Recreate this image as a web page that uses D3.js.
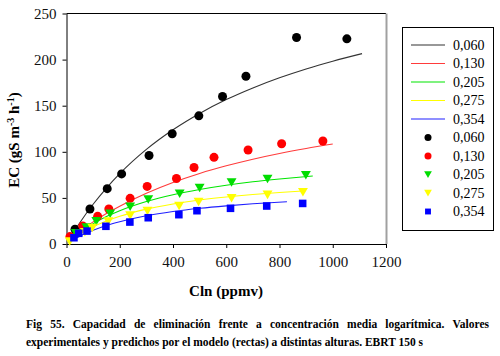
<!DOCTYPE html>
<html><head><meta charset="utf-8">
<script src="https://cdn.jsdelivr.net/npm/d3@7"></script>
<style>body{margin:0;background:#fff}svg{display:block}</style>
</head><body>
<script>
// ---- data ----
const seriesNames = ["0,060","0,130","0,205","0,275","0,354"];
const xTicks = [0,200,400,600,800,1000,1200];
const yTicks = [0,50,100,150,200,250];

// experimental points
const ptsX060 = [32, 88, 153, 207, 310, 397, 497, 586, 674, 864, 1053];
const ptsY060 = [16, 38, 60, 76, 96, 119.6, 139, 160, 182, 224, 222.5];
const ptsX130 = [13, 61, 117, 159, 239, 303, 413, 479, 554, 682, 808, 963];
const ptsY130 = [8, 19.5, 30, 38, 49.5, 62.5, 71, 83, 94, 102, 108.7, 111.7];
const ptsX205 = [35, 75, 112, 164, 239, 307, 425, 500, 620, 755, 899];
const ptsY205 = [12, 18, 25, 33, 40.7, 48.6, 54.8, 61, 67, 70.8, 74.8];
const ptsX275 = [12, 69, 97, 157, 239, 304, 423, 496, 620, 755, 888];
const ptsY275 = [3, 13, 17.7, 24.6, 31, 36, 41.5, 45.9, 49.9, 53.5, 56.4];
const ptsX354 = [28, 46, 77, 148, 238, 307, 422, 490, 616, 752, 887];
const ptsY354 = [6.8, 11.6, 14, 19.2, 23.8, 28.5, 31.8, 36.1, 38.7, 41.2, 44];

// model (predicted) lines
const lineX060 = [15, 50, 100, 150, 200, 300, 400, 500, 600, 700, 800, 900, 1000, 1110];
const lineY060 = [7.3, 23.1, 43.1, 60.7, 76.3, 102.6, 123.9, 141.6, 156.6, 169.3, 180.3, 189.9, 198.3, 206.5];
const lineX130 = [15, 50, 100, 150, 200, 300, 400, 500, 600, 700, 800, 900, 1000];
const lineY130 = [4.5, 13.5, 24, 33, 41, 55, 66.7, 76.5, 84.8, 92, 98.2, 103.6, 108.4];
const lineX205 = [15, 50, 100, 150, 200, 300, 400, 500, 600, 700, 800, 925];
const lineY205 = [4.0, 12.2, 21.9, 29.7, 36.1, 46.1, 53.5, 59.2, 63.8, 67.5, 70.5, 73.7];
const lineX275 = [15, 50, 100, 150, 200, 300, 400, 500, 600, 700, 800, 888];
const lineY275 = [3.5, 10.5, 18.6, 24.9, 30.0, 37.8, 43.4, 47.7, 51.0, 53.7, 55.9, 57.5];
const lineX354 = [15, 50, 100, 150, 200, 300, 400, 500, 600, 700, 828];
const lineY354 = [2.8, 8.5, 14.9, 20.1, 24.2, 30.6, 35.2, 38.7, 41.4, 43.6, 45.9];

const lineColors = ["#333333","#ff3b3b","#00e600","#ffff00","#2020ff"];
const markColors = ["#000000","#ff0000","#00dd00","#ffff00","#0000ff"];
const markShapes = ["circle","circle","tri","tri","square"];
const captionLine1 = "Fig 55. Capacidad de eliminación frente a concentración media logarítmica. Valores";
const captionLine2 = "experimentales y predichos por el modelo (rectas) a distintas alturas. EBRT 150 s";

const lines = [[lineX060,lineY060],[lineX130,lineY130],[lineX205,lineY205],[lineX275,lineY275],[lineX354,lineY354]];
const pts = [[ptsX060,ptsY060],[ptsX130,ptsY130],[ptsX205,ptsY205],[ptsX275,ptsY275],[ptsX354,ptsY354]];

const FONT = '"Liberation Serif"';
const W=500,H=356;
const svg = d3.select("body").append("svg").attr("width",W).attr("height",H);
const x = d3.scaleLinear().domain([0,1200]).range([66.5,386]);
const y = d3.scaleLinear().domain([0,250]).range([244,13.5]);

// frame
svg.append("line").attr("x1",x(0)).attr("x2",x(1200)).attr("y1",y(250)).attr("y2",y(250)).attr("stroke","#000").attr("stroke-width",1);
svg.append("line").attr("x1",x(1200)+0.5).attr("x2",x(1200)+0.5).attr("y1",y(250)).attr("y2",y(0)).attr("stroke","#a0a0a0").attr("stroke-width",2);

const xa = svg.append("g").attr("transform",`translate(0,${y(0)})`)
  .call(d3.axisBottom(x).tickValues(xTicks).tickFormat(d3.format("d")).tickSize(4).tickPadding(8).tickSizeOuter(0));
const ya = svg.append("g").attr("transform",`translate(${x(0)},0)`)
  .call(d3.axisLeft(y).tickValues(yTicks).tickFormat(d3.format("d")).tickSize(4).tickPadding(6).tickSizeOuter(0));
[xa,ya].forEach(a=>{a.attr("font-family",null).attr("font-size",null);
  a.selectAll("text").attr("font-family",FONT).attr("font-size",15).attr("fill","#111");
  a.selectAll("path,line").attr("stroke","#000");});

// lines
const lg = d3.line().x(d=>x(d[0])).y(d=>y(d[1])).curve(d3.curveMonotoneX);
lines.forEach((l,i)=>{
  const data = l[0].map((v,j)=>[v,l[1][j]]);
  svg.append("path").datum(data).attr("d",lg).attr("fill","none").attr("stroke",lineColors[i]).attr("stroke-width",1.1);
});

function drawMark(g,shape,cx,cy,color,s){
  if(shape==="circle") g.append("circle").attr("cx",cx).attr("cy",cy).attr("r",s*0.5).attr("fill",color);
  else if(shape==="tri") g.append("path").attr("d",`M${cx-s*0.55},${cy-s*0.45}L${cx+s*0.55},${cy-s*0.45}L${cx},${cy+s*0.5}Z`).attr("fill",color);
  else g.append("rect").attr("x",cx-s*0.42).attr("y",cy-s*0.42).attr("width",s*0.84).attr("height",s*0.84).attr("fill",color);
}
const mg = svg.append("g");
pts.forEach((p,i)=>{
  p[0].forEach((v,j)=>drawMark(mg,markShapes[i],x(v),y(p[1][j]),markColors[i],9));
});

// axis titles
svg.append("text").attr("x",226).attr("y",296).attr("text-anchor","middle").attr("font-family",FONT)
  .attr("font-size",15).attr("font-weight","bold").text("Cln (ppmv)");
const yt = svg.append("text").attr("transform","translate(19,140) rotate(-90)").attr("text-anchor","middle").attr("font-family",FONT)
  .attr("font-size",15).attr("font-weight","bold");
yt.append("tspan").text("EC (gS m");
yt.append("tspan").attr("dy",-5).attr("font-size",10).text("-3");
yt.append("tspan").attr("dy",5).text(" h");
yt.append("tspan").attr("dy",-5).attr("font-size",10).text("-1");
yt.append("tspan").attr("dy",5).text(")");

// legend
const lgd = svg.append("g");
lgd.append("rect").attr("x",402.5).attr("y",27.5).attr("width",91).attr("height",203).attr("fill","#fff").attr("stroke","#000").attr("stroke-width",1);
seriesNames.forEach((n,i)=>{
  const yy = 45 + i*18.5;
  lgd.append("line").attr("x1",411).attr("x2",445).attr("y1",yy).attr("y2",yy).attr("stroke",lineColors[i]).attr("stroke-width",1.2);
  lgd.append("text").attr("x",453).attr("y",yy).attr("dy","0.35em").attr("font-family",FONT).attr("font-size",14).text(n);
});
seriesNames.forEach((n,i)=>{
  const yy = 45 + (i+5)*18.5;
  drawMark(lgd,markShapes[i],428,yy,markColors[i],7);
  lgd.append("text").attr("x",453).attr("y",yy).attr("dy","0.35em").attr("font-family",FONT).attr("font-size",14).text(n);
});

// caption (first line justified)
const cap = svg.append("g");
const words = captionLine1.split(" ");
const left=26,right=489;
const tmp = words.map(w=>cap.append("text").attr("y",328).attr("font-family",FONT).attr("font-size",11.5).attr("font-weight","bold").text(w));
const widths = tmp.map(t=>t.node().getComputedTextLength());
const gap = (right-left-d3.sum(widths))/(words.length-1);
let cx=left;
tmp.forEach((t,i)=>{t.attr("x",cx); cx+=widths[i]+gap;});
cap.append("text").attr("x",left).attr("y",346).attr("font-family",FONT).attr("font-size",11.5).attr("font-weight","bold").text(captionLine2);
</script>
</body></html>
